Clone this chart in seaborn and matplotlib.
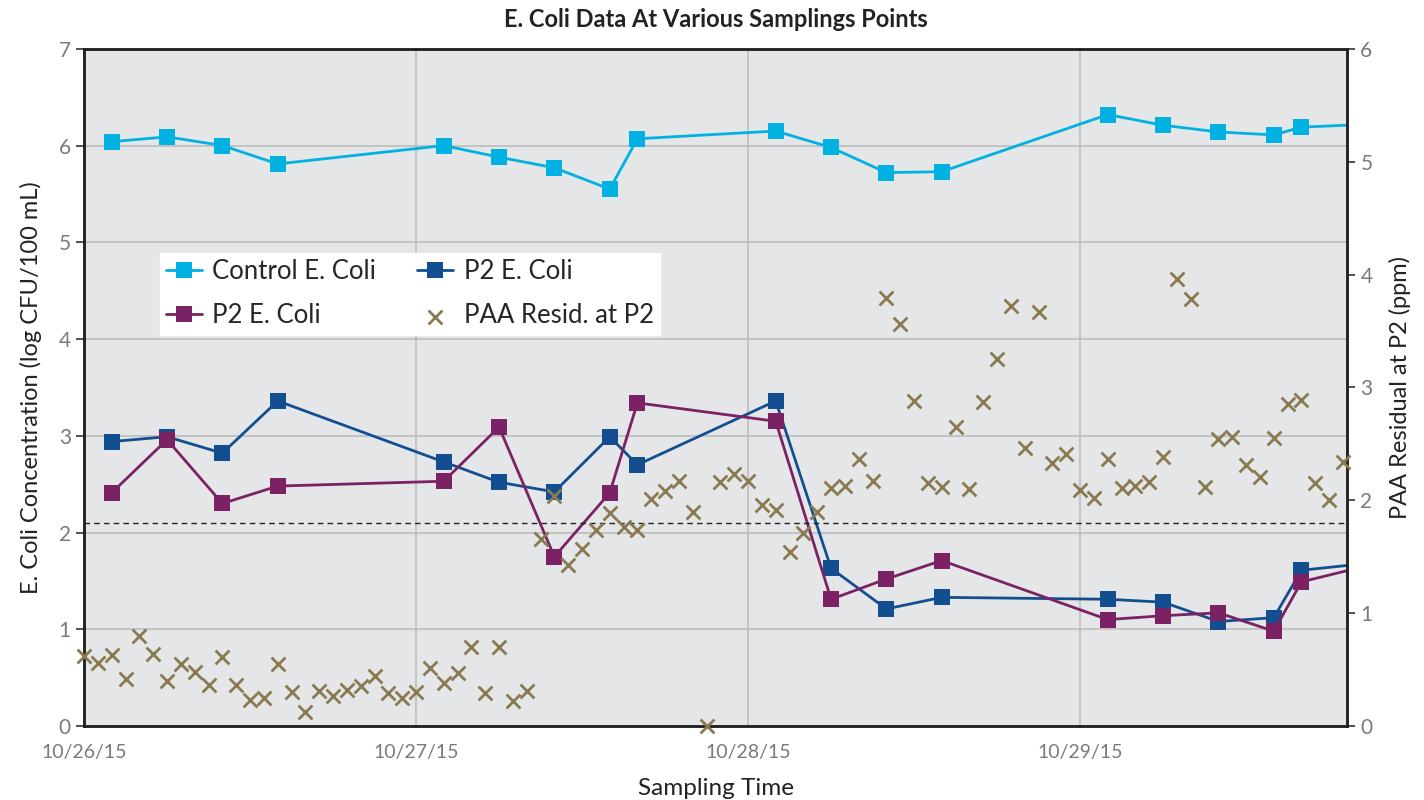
import pandas as pd
import matplotlib.pyplot as plt
import matplotlib.dates as mdates
import seaborn as sns

# sampling hours after 10/26/15 00:00
ecoli_hours = [2, 6, 10, 14, 26, 30, 34, 38, 40, 50, 54, 58, 62, 74, 78, 82, 86, 88, 92]
control_ecoli = [6.04, 6.09, 6.00, 5.81, 6.00, 5.88, 5.77, 5.55, 6.07, 6.15, 5.98, 5.72,
                 5.73, 6.32, 6.21, 6.14, 6.11, 6.19, 6.215]
p2_ecoli_a = [2.94, 2.99, 2.82, 3.36, 2.73, 2.52, 2.42, 2.99, 2.70, 3.36, 1.63, 1.21,
              1.33, 1.31, 1.28, 1.08, 1.12, 1.61, 1.67]
p2_ecoli_b = [2.41, 2.96, 2.30, 2.48, 2.53, 3.09, 1.75, 2.41, 3.34, 3.15, 1.31, 1.52,
              1.71, 1.10, 1.14, 1.17, 0.98, 1.49, 1.63]

paa_hours = list(range(92))
paa_resid = [0.62, 0.56, 0.63, 0.42, 0.80, 0.64, 0.40, 0.55, 0.48, 0.36,
             0.61, 0.36, 0.23, 0.25, 0.55, 0.30, 0.12, 0.31, 0.27, 0.32,
             0.35, 0.44, 0.29, 0.25, 0.30, 0.51, 0.38, 0.47, 0.70, 0.29,
             0.70, 0.22, 0.31, 1.66, 2.04, 1.43, 1.57, 1.74, 1.89, 1.76,
             1.74, 2.01, 2.08, 2.17, 1.90, 0.00, 2.16, 2.23, 2.17, 1.96,
             1.91, 1.54, 1.71, 1.90, 2.11, 2.13, 2.37, 2.17, 3.79, 3.56,
             2.88, 2.15, 2.12, 2.65, 2.10, 2.87, 3.25, 3.72, 2.46, 3.67,
             2.33, 2.41, 2.09, 2.02, 2.37, 2.11, 2.13, 2.16, 2.38, 3.96,
             3.78, 2.12, 2.54, 2.56, 2.31, 2.21, 2.55, 2.85, 2.89, 2.15,
             2.00, 2.34]

limit_log = 2.1
start = pd.Timestamp('2015-10-26')
end_hours = 91.3

ecoli_df = pd.DataFrame({
    'time': start + pd.to_timedelta(ecoli_hours, unit='h'),
    'control': control_ecoli,
    'p2_a': p2_ecoli_a,
    'p2_b': p2_ecoli_b,
})
paa_df = pd.DataFrame({
    'time': start + pd.to_timedelta(paa_hours, unit='h'),
    'paa': paa_resid,
})

sns.set_style('white')
plt.rcParams['font.family'] = ['Lato', 'DejaVu Sans']

CYAN = '#00b1e2'
BLUE = '#134f90'
PURPLE = '#7a2264'
OLIVE = '#8a7a52'
GRAY_TXT = '#7a7a7a'

fig, ax = plt.subplots(figsize=(14.24, 8), dpi=100)
fig.subplots_adjust(left=0.059, right=0.946, top=0.939, bottom=0.0925)
ax.set_facecolor('#e5e6e8')

line_kw = dict(marker='s', markersize=12, markeredgewidth=0, linewidth=2)
sns.lineplot(data=ecoli_df, x='time', y='control', color=CYAN, label='Control E. Coli', ax=ax, **line_kw)
sns.lineplot(data=ecoli_df, x='time', y='p2_a', color=BLUE, label='P2 E. Coli', ax=ax, **line_kw)
sns.lineplot(data=ecoli_df, x='time', y='p2_b', color=PURPLE, label='P2 E. Coli', ax=ax, **line_kw)
ax.axhline(limit_log, color='#222222', linestyle=(0, (4, 3)), linewidth=1)

ax.set_ylim(0, 7)
ax.set_xlim(start, start + pd.Timedelta(hours=end_hours))
ax.xaxis.set_major_locator(mdates.DayLocator())
ax.xaxis.set_major_formatter(mdates.DateFormatter('%m/%d/%y'))
ax.xaxis.set_minor_locator(mdates.HourLocator())
ax.grid(True, which='major', color='#bdbdbd', linewidth=1.2)
ax.set_axisbelow(True)
ax.tick_params(axis='x', which='minor', length=5, width=1.2, color='#333333', direction='out')
ax.tick_params(axis='x', which='major', length=5, width=1.2, color='#333333', labelsize=14,
               labelcolor=GRAY_TXT, pad=8)
ax.tick_params(axis='y', length=6, width=1.2, color='#333333', labelsize=15, labelcolor=GRAY_TXT,
               direction='out', left=True)
ax.set_xlabel('Sampling Time', fontsize=17.5, color='#222222', labelpad=12)
ax.set_ylabel('E. Coli Concentration (log CFU/100 mL)', fontsize=17, color='#222222', labelpad=12)
ax.set_title('E. Coli Data At Various Samplings Points', fontsize=17, fontweight='bold',
             color='#222222', pad=16)

ax2 = ax.twinx()
sns.scatterplot(data=paa_df, x='time', y='paa', color=OLIVE, marker='x', s=100, linewidth=2,
                label='PAA Resid. at P2', ax=ax2, clip_on=False, zorder=5)
ax2.set_ylim(0, 6)
ax2.set_ylabel('PAA Residual at P2 (ppm)', fontsize=17, color='#222222', labelpad=12)
ax2.tick_params(axis='y', length=6, width=1.2, color='#333333', labelsize=15, labelcolor=GRAY_TXT,
                direction='out', right=True)
ax2.grid(False)

for a in (ax, ax2):
    for side in a.spines.values():
        side.set_color('#222222')
        side.set_linewidth(1.8)

h1, l1 = ax.get_legend_handles_labels()
h2, l2 = ax2.get_legend_handles_labels()
ax.get_legend().remove()
ax2.get_legend().remove()
handles = [h1[0], h1[2], h1[1], h2[0]]
labels = [l1[0], l1[2], l1[1], l2[0]]
leg = ax2.legend(handles, labels, ncol=2, loc='upper left', bbox_to_anchor=(0.06, 0.699),
                 fontsize=18.5, frameon=True, fancybox=False, framealpha=1, edgecolor='white',
                 facecolor='white', borderpad=0.25, handlelength=1.4, handletextpad=0.4,
                 columnspacing=1.6, labelspacing=0.75, borderaxespad=0)
leg.set_zorder(10)

plt.savefig('out.png', dpi=100)
